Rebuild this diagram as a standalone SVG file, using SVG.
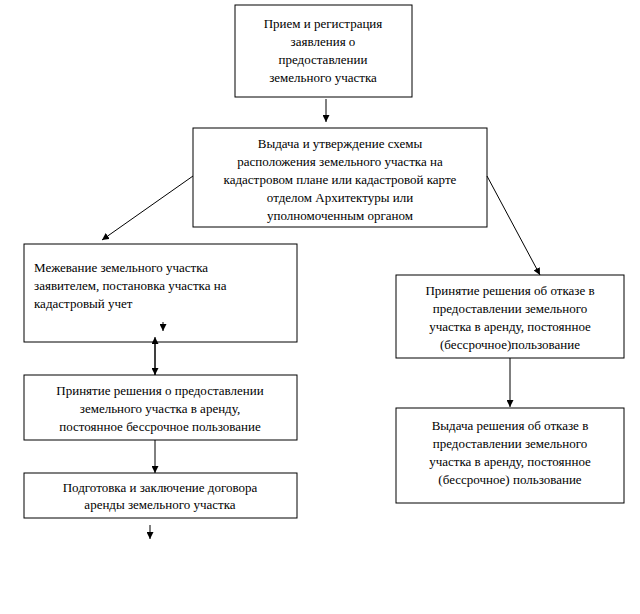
<svg xmlns="http://www.w3.org/2000/svg" width="640" height="614" viewBox="0 0 640 614">
<style>
.b{fill:#fff;stroke:#000;stroke-width:1}
.t{font-family:"Liberation Serif",serif;font-size:13px;fill:#000}
.c line{stroke:#000;stroke-width:1}
</style>
<defs><marker id="a" viewBox="0 0 10 10" refX="10" refY="5" markerWidth="7" markerHeight="7" orient="auto"><path d="M0,0L10,5L0,10z"/></marker></defs>
<rect width="640" height="614" fill="#fff"/>
<g id="n1"><rect class="b" x="235" y="5" width="177" height="92"/>
<text class="t" text-anchor="middle"><tspan x="323" y="28">Прием и регистрация</tspan><tspan x="323" y="46">заявления о</tspan><tspan x="323" y="64">предоставлении</tspan><tspan x="323" y="82">земельного участка</tspan></text></g>
<g id="n2"><rect class="b" x="193" y="128" width="294" height="99"/>
<text class="t" text-anchor="middle"><tspan x="340" y="148">Выдача и  утверждение схемы</tspan><tspan x="340" y="166">расположения земельного участка на</tspan><tspan x="340" y="184">кадастровом плане  или кадастровой карте</tspan><tspan x="340" y="202">отделом Архитектуры  или</tspan><tspan x="340" y="220">уполномоченным  органом</tspan></text></g>
<g id="n3"><rect class="b" x="24" y="244" width="273" height="98"/>
<text class="t"><tspan x="34" y="272">Межевание земельного участка</tspan><tspan x="34" y="290">заявителем, постановка участка на</tspan><tspan x="34" y="308">кадастровый учет</tspan></text></g>
<g id="n4"><rect class="b" x="24" y="375" width="273" height="65"/>
<text class="t" text-anchor="middle"><tspan x="160" y="395">Принятие решения о предоставлении</tspan><tspan x="160" y="413">земельного участка в аренду,</tspan><tspan x="160" y="431">постоянное бессрочное пользование</tspan></text></g>
<g id="n5"><rect class="b" x="24" y="473" width="273" height="45"/>
<text class="t" text-anchor="middle"><tspan x="160" y="492">Подготовка и заключение договора</tspan><tspan x="160" y="509">аренды земельного участка</tspan></text></g>
<g id="n6"><rect class="b" x="396" y="275" width="228" height="83"/>
<text class="t" text-anchor="middle"><tspan x="510" y="295">Принятие решения об отказе в</tspan><tspan x="510" y="313">предоставлении земельного</tspan><tspan x="510" y="331">участка в аренду, постоянное</tspan><tspan x="510" y="349">(бессрочное)пользование</tspan></text></g>
<g id="n7"><rect class="b" x="396" y="408" width="228" height="95"/>
<text class="t" text-anchor="middle"><tspan x="510" y="430">Выдача решения об отказе в</tspan><tspan x="510" y="448">предоставлении земельного</tspan><tspan x="510" y="466">участка в аренду, постоянное</tspan><tspan x="510" y="484">(бессрочное) пользование</tspan></text></g>
<g class="c">
<line x1="326" y1="99" x2="326" y2="122" marker-end="url(#a)"/>
<line x1="193" y1="176" x2="102" y2="240" marker-end="url(#a)"/>
<line x1="487" y1="176" x2="540" y2="275" marker-end="url(#a)"/>
<line x1="163" y1="322" x2="163" y2="331" marker-end="url(#a)"/>
<line x1="155" y1="375" x2="155" y2="337" marker-end="url(#a)"/>
<line x1="155" y1="342" x2="155" y2="375" marker-end="url(#a)"/>
<line x1="155" y1="440" x2="155" y2="473" marker-end="url(#a)"/>
<line x1="150" y1="525" x2="150" y2="539" marker-end="url(#a)"/>
<line x1="510" y1="358" x2="510" y2="407" marker-end="url(#a)"/>
</g>
</svg>
